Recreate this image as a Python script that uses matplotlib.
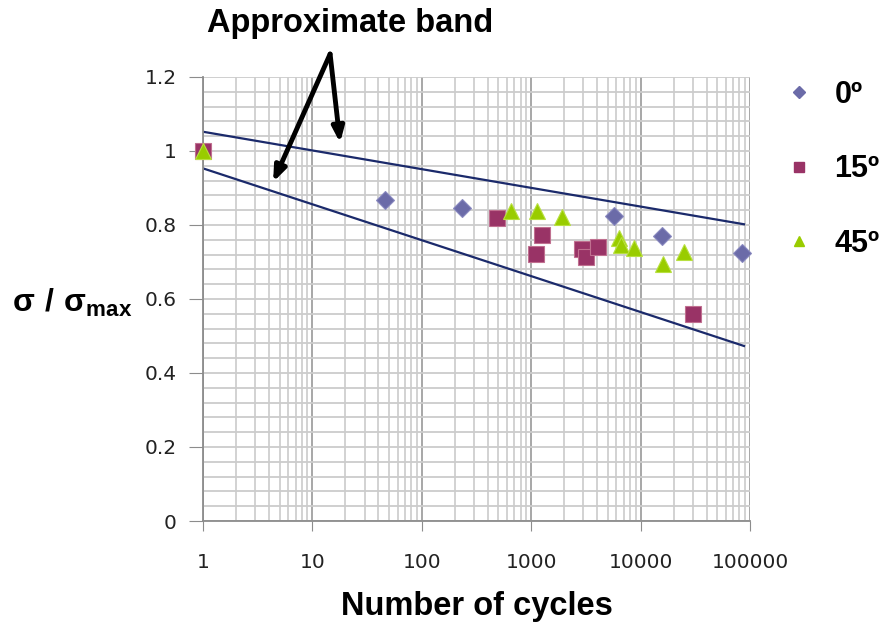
import matplotlib
matplotlib.use('Agg')
import matplotlib.pyplot as plt
from matplotlib.lines import Line2D
from matplotlib.ticker import FixedLocator, FixedFormatter, NullFormatter
import numpy as np

plt.rcParams['mathtext.fontset'] = 'custom'
plt.rcParams['mathtext.bf'] = 'Liberation Sans:bold'
plt.rcParams['mathtext.rm'] = 'Liberation Sans'

# data
cycles_0 = [46, 233, 5700, 15700, 84500]
ratio_0 = [0.868, 0.846, 0.823, 0.770, 0.724]

cycles_15 = [1, 487, 1256, 1107, 2910, 3170, 4080, 30100]
ratio_15 = [1.0, 0.819, 0.773, 0.722, 0.735, 0.714, 0.741, 0.559]

cycles_45 = [1, 653, 1130, 1910, 6350, 6620, 8710, 16000, 24900]
ratio_45 = [1.0, 0.838, 0.838, 0.822, 0.765, 0.746, 0.738, 0.695, 0.727]

band_x = [1, 88000]
band_upper = [1.052, 0.802]
band_lower = [0.953, 0.473]

x_ticks = [1, 10, 100, 1000, 10000, 100000]
x_labels = ['1', '10', '100', '1000', '10000', '100000']
y_ticks = [0, 0.2, 0.4, 0.6, 0.8, 1.0, 1.2]
y_labels = ['0', '0.2', '0.4', '0.6', '0.8', '1', '1.2']

c0 = '#6b6ba8'
c15 = '#993366'
c45 = '#99cc00'
line_c = '#1b2a6b'

fig = plt.figure(figsize=(8.89, 6.29), dpi=100)
ax = fig.add_axes([0.2284, 0.1717, 0.6153, 0.7059])

ax.set_xscale('log')
ax.set_xlim(1, 100000)
ax.set_ylim(0, 1.2)

# grid
minor_x = [m * 10 ** d for d in range(5) for m in range(2, 10)]
ax.xaxis.set_major_locator(FixedLocator(x_ticks))
ax.xaxis.set_major_formatter(FixedFormatter(x_labels))
ax.xaxis.set_minor_locator(FixedLocator(minor_x))
ax.xaxis.set_minor_formatter(NullFormatter())
ax.yaxis.set_major_locator(FixedLocator(y_ticks))
ax.yaxis.set_major_formatter(FixedFormatter(y_labels))
ax.yaxis.set_minor_locator(FixedLocator(list(np.arange(0.04, 1.2, 0.04))))
ax.grid(which='major', axis='x', color='#a0a0a0', lw=1.3)
ax.grid(which='minor', axis='x', color='#cfcfcf', lw=1.3)
ax.grid(which='both', axis='y', color='#cccccc', lw=1.3)
ax.set_axisbelow(True)

for s in ['top', 'right']:
    ax.spines[s].set_visible(False)
for s in ['left', 'bottom']:
    ax.spines[s].set_color('#8c8c8c')
    ax.spines[s].set_linewidth(1.3)

ax.tick_params(axis='x', which='major', length=7, color='#8c8c8c', pad=16, labelsize=14.5, labelcolor='#222222')
ax.tick_params(axis='y', which='major', length=10, color='#8c8c8c', pad=9, labelsize=14.5, labelcolor='#222222')
ax.tick_params(which='minor', length=0)

# band lines
ax.plot(band_x, band_upper, color=line_c, lw=1.6)
ax.plot(band_x, band_lower, color=line_c, lw=1.6)

ax.plot(cycles_0, ratio_0, 'D', color=c0, ms=9, mec='#8a8ac0', mew=0.8, ls='none', clip_on=False, zorder=3)
ax.plot(cycles_15, ratio_15, 's', color=c15, ms=11.5, mec='#c07090', mew=0.8, ls='none', clip_on=False, zorder=3)
ax.plot(cycles_45, ratio_45, '^', color=c45, ms=11, mec='#b8e040', mew=0.8, ls='none', clip_on=False, zorder=4)

ax.set_xlabel('Number of cycles', fontsize=23.5, fontweight='bold', family='Liberation Sans', labelpad=14)
ax.set_ylabel(r'$\mathbf{σ\ /\ σ_{max}}$', fontsize=23, rotation=0, va='center', ha='center')
ax.yaxis.set_label_coords(-0.24, 0.49)

# legend
handles = [Line2D([], [], marker='D', color=c0, ls='none', ms=6),
           Line2D([], [], marker='s', color=c15, ls='none', ms=7),
           Line2D([], [], marker='^', color=c45, ls='none', ms=7)]
leg = ax.legend(handles, ['0º', '15º', '45º'], loc='upper left', bbox_to_anchor=(1.012, 1.055),
                frameon=False, labelspacing=1.45, handletextpad=0.65, handlelength=1.0,
                prop={'family': 'Liberation Sans', 'weight': 'bold', 'size': 22})

# annotation
fig.text(0.394, 0.962, 'Approximate band', fontsize=23.5, fontweight='bold', family='Liberation Sans',
         ha='center', va='center')
arrow = dict(arrowstyle='-|>,head_length=0.9,head_width=0.35', color='black', lw=3.5, shrinkA=0, shrinkB=0)
ax.annotate('', xy=(4.37, 0.916), xytext=(14.5, 1.262), arrowprops=arrow, annotation_clip=False)
ax.annotate('', xy=(17.9, 1.022), xytext=(14.5, 1.262), arrowprops=arrow, annotation_clip=False)

fig.savefig('out.png', dpi=100)
